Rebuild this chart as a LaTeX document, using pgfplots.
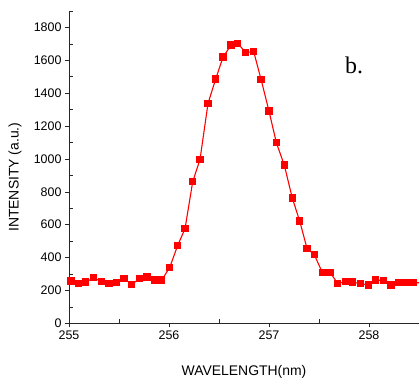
\documentclass[border=0pt]{standalone}
\usepackage{pgfplots}
\pgfplotsset{compat=1.18}
\usepackage{fontspec}
\setmainfont{Liberation Sans}
\newfontfamily\serifb{Liberation Serif}
\begin{document}
\begin{tikzpicture}
\begin{axis}[
  name=ax,
  width=350bp, height=312.3bp, scale only axis,
  xmin=255, xmax=258.5, ymin=0, ymax=1900,
  axis lines*=left,
  axis line style={-, black!85},
  xtick={255,256,257,258},
  minor xtick={255.5,256.5,257.5},
  ytick={0,200,...,1800},
  minor ytick={100,300,...,1900},
  tick align=outside,
  major tick length=4bp,
  minor tick length=-4bp,
  tick style={black!85, line width=0.6bp},
  xticklabel style={/pgf/number format/.cd, fixed, precision=0, 1000 sep={}},
  yticklabel style={/pgf/number format/.cd, fixed, 1000 sep={}},
  /pgf/number format/assume math mode=true,
  ticklabel style={font=\fontsize{12.5}{14}\selectfont},
  xlabel={WAVELENGTH(nm)},
  ylabel={INTENSITY (a.u.)},
  label style={font=\fontsize{14}{16}\selectfont},
  xlabel style={at={(axis description cs:0.5,-0.156)}, anchor=center},
  ylabel style={at={(axis description cs:-0.154,0.468)}, anchor=center},
  clip=true,
]
\addplot[red, line width=1.1bp, mark=square*, mark size=3.2bp, mark options={fill=red, draw=red, line width=0pt}] coordinates {
(255.02,257) (255.097,243) (255.167,251) (255.247,277) (255.327,253)
(255.40,243) (255.477,247) (255.55,274) (255.627,235) (255.707,274)
(255.78,281) (255.86,263) (255.927,263) (256.007,340) (256.087,474)
(256.16,575) (256.237,861) (256.31,997) (256.39,1337) (256.467,1487)
(256.54,1619) (256.62,1692) (256.687,1704) (256.767,1647) (256.847,1653)
(256.92,1485) (257.0,1291) (257.073,1100) (257.153,962) (257.233,762)
(257.307,622) (257.38,456) (257.453,417) (257.533,310) (257.61,310)
(257.687,243) (257.767,253) (257.833,251) (257.917,241) (257.993,233)
(258.067,263) (258.143,261) (258.22,233) (258.30,247) (258.373,247)
(258.447,247) (258.52,247)
};
\node[anchor=base west, font=\serifb\fontsize{24}{26}\selectfont, inner sep=0pt] at (axis cs:257.76,1522) {b.};
\end{axis}
\pgfresetboundingbox
\path[use as bounding box] ([xshift=-69bp,yshift=-56.7bp]ax.south west) rectangle ([yshift=11bp]ax.north east);
\end{tikzpicture}
\end{document}
